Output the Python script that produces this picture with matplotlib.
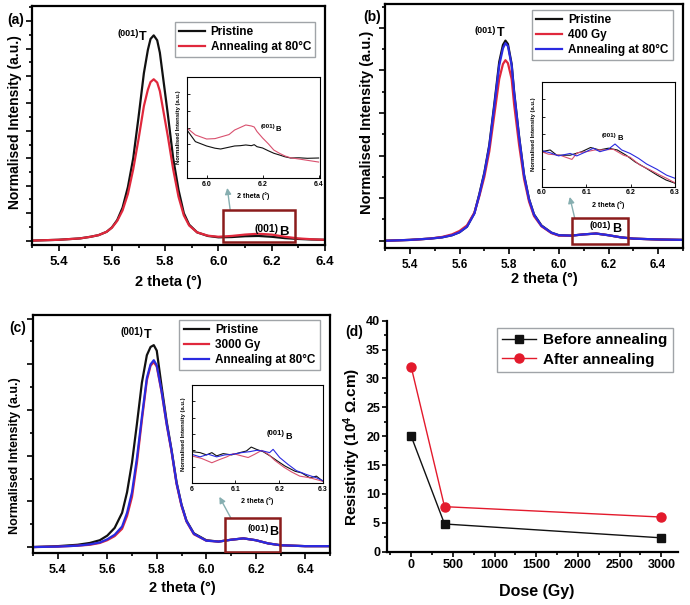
import matplotlib
matplotlib.use('Agg')
import matplotlib.pyplot as plt
from matplotlib.patches import Rectangle
from matplotlib.ticker import MultipleLocator, FormatStrFormatter, NullFormatter

plt.rcParams['font.family'] = ['Liberation Sans', 'DejaVu Sans']
plt.rcParams['font.weight'] = 'bold'
plt.rcParams['axes.labelweight'] = 'bold'
plt.rcParams['mathtext.fontset'] = 'custom'
plt.rcParams['mathtext.bf'] = 'Liberation Sans:bold'
plt.rcParams['mathtext.rm'] = 'Liberation Sans:bold'
plt.rcParams['mathtext.default'] = 'bf'

# ---- (a) pristine vs annealed ------------------------------------------
A_X = [5.30, 5.40, 5.48, 5.52, 5.55, 5.58, 5.60, 5.62, 5.64, 5.66,
       5.68, 5.70, 5.72, 5.735, 5.745, 5.757, 5.77, 5.78, 5.79, 5.81,
       5.83, 5.85, 5.87, 5.89, 5.92, 5.96, 6.00, 6.05, 6.10, 6.15,
       6.20, 6.25, 6.30, 6.35, 6.40]
A_PRISTINE = [0.0, 0.03, 0.08, 0.14, 0.2, 0.32, 0.48, 0.75, 1.2, 1.95,
              3.0, 4.5, 6.1, 6.95, 7.35, 7.48, 7.3, 6.85, 6.1, 4.6,
              3.0, 1.85, 1.0, 0.58, 0.3, 0.17, 0.12, 0.13, 0.16, 0.17,
              0.14, 0.09, 0.06, 0.04, 0.03]
A_ANNEAL = [0.0, 0.03, 0.08, 0.14, 0.2, 0.32, 0.47, 0.72, 1.1, 1.7,
            2.6, 3.7, 4.9, 5.5, 5.78, 5.88, 5.76, 5.45, 4.9, 3.8,
            2.6, 1.6, 0.92, 0.55, 0.3, 0.18, 0.14, 0.17, 0.22, 0.25,
            0.22, 0.14, 0.08, 0.05, 0.03]
A_IN_X = [5.93, 5.96, 6.00, 6.03, 6.05, 6.08, 6.10, 6.12, 6.14, 6.16,
          6.17, 6.18, 6.20, 6.22, 6.24, 6.26, 6.28, 6.30, 6.33, 6.36, 6.40]
A_IN_ANNEAL = [4.95, 4.26, 3.86, 3.9, 4.06, 4.3, 4.75, 5.0, 5.25, 5.15,
               5.05, 4.6, 3.96, 3.4, 2.77, 2.45, 2.18, 2.0, 1.88, 1.75, 1.58]
A_IN_PRISTINE = [4.75, 3.6, 3.17, 2.95, 2.87, 3.05, 3.17, 3.2, 3.27, 3.2,
                 3.3, 3.1, 2.97, 2.7, 2.45, 2.28, 2.1, 1.98, 2.0, 1.95, 1.98]

# ---- (b) pristine / 400 Gy / annealed ----------------------------------
B_X = [5.30, 5.40, 5.48, 5.53, 5.57, 5.60, 5.63, 5.66, 5.68, 5.70,
       5.72, 5.74, 5.76, 5.775, 5.785, 5.795, 5.81, 5.82, 5.84, 5.86,
       5.88, 5.90, 5.93, 5.97, 6.00, 6.05, 6.10, 6.15, 6.20, 6.25,
       6.30, 6.40, 6.50]
B_PRISTINE = [0.0, 0.02, 0.05, 0.08, 0.13, 0.2, 0.33, 0.65, 1.1, 1.6,
              2.25, 3.2, 4.2, 4.6, 4.7, 4.62, 4.15, 3.5, 2.45, 1.55,
              0.98, 0.62, 0.36, 0.19, 0.13, 0.12, 0.15, 0.17, 0.13, 0.08,
              0.05, 0.03, 0.02]
B_400 = [0.0, 0.02, 0.05, 0.09, 0.15, 0.23, 0.36, 0.66, 1.05, 1.5,
         2.1, 2.95, 3.8, 4.15, 4.24, 4.17, 3.8, 3.2, 2.25, 1.45,
         0.92, 0.58, 0.34, 0.18, 0.12, 0.12, 0.15, 0.17, 0.13, 0.08,
         0.05, 0.03, 0.02]
B_ANNEAL = [0.0, 0.02, 0.05, 0.08, 0.13, 0.2, 0.33, 0.64, 1.08, 1.58,
            2.22, 3.15, 4.12, 4.52, 4.64, 4.57, 4.12, 3.47, 2.43, 1.53,
            0.97, 0.61, 0.35, 0.19, 0.13, 0.12, 0.15, 0.17, 0.13, 0.08,
            0.05, 0.03, 0.02]
B_IN_X_P = [6.0, 6.019, 6.034, 6.064, 6.09, 6.11, 6.13, 6.15, 6.17, 6.19,
            6.21, 6.236, 6.26, 6.28, 6.3]
B_IN_P = [1.0, 1.05, 0.9, 0.9, 1.0, 1.12, 1.05, 1.1, 1.05, 0.9,
          0.71, 0.52, 0.33, 0.19, 0.1]
B_IN_X_400 = [6.0, 6.015, 6.041, 6.068, 6.08, 6.10, 6.12, 6.139, 6.161, 6.184,
              6.199, 6.221, 6.244, 6.266, 6.281, 6.3]
B_IN_400 = [1.0, 0.93, 0.9, 0.78, 0.97, 1.0, 1.05, 1.05, 1.07, 0.9,
            0.84, 0.62, 0.48, 0.33, 0.24, 0.11]
B_IN_X_A = [6.0, 6.019, 6.038, 6.064, 6.079, 6.10, 6.116, 6.131, 6.15, 6.165,
            6.18, 6.199, 6.218, 6.236, 6.259, 6.281, 6.3]
B_IN_A = [1.03, 0.97, 0.88, 0.95, 0.88, 1.0, 1.1, 1.0, 1.07, 1.22,
          1.05, 0.95, 0.81, 0.65, 0.5, 0.33, 0.24]

# ---- (c) pristine / 3000 Gy / annealed ---------------------------------
C_X = [5.30, 5.40, 5.48, 5.53, 5.57, 5.60, 5.63, 5.66, 5.68, 5.70,
       5.72, 5.74, 5.76, 5.775, 5.788, 5.80, 5.82, 5.84, 5.86, 5.88,
       5.90, 5.92, 5.95, 6.00, 6.05, 6.10, 6.15, 6.20, 6.25, 6.30,
       6.40, 6.50]
C_PRISTINE = [0.0, 0.02, 0.05, 0.09, 0.15, 0.25, 0.42, 0.75, 1.2, 1.85,
              2.7, 3.6, 4.2, 4.38, 4.42, 4.3, 3.5, 2.75, 2.12, 1.42,
              0.93, 0.58, 0.3, 0.15, 0.12, 0.16, 0.19, 0.15, 0.08, 0.04,
              0.02, 0.02]
C_3000 = [0.0, 0.01, 0.03, 0.05, 0.09, 0.15, 0.24, 0.4, 0.68, 1.1,
          1.85, 2.78, 3.65, 3.97, 4.05, 3.95, 3.38, 2.68, 2.08, 1.38,
          0.9, 0.56, 0.28, 0.14, 0.12, 0.16, 0.19, 0.15, 0.08, 0.04,
          0.02, 0.02]
C_ANNEAL = [0.0, 0.01, 0.03, 0.06, 0.1, 0.17, 0.27, 0.45, 0.75, 1.2,
            1.95, 2.85, 3.7, 4.0, 4.09, 3.98, 3.4, 2.7, 2.1, 1.4,
            0.92, 0.57, 0.29, 0.14, 0.12, 0.16, 0.19, 0.15, 0.08, 0.04,
            0.02, 0.02]
C_IN_X_P = [6.0, 6.019, 6.034, 6.046, 6.057, 6.072, 6.091, 6.11, 6.125, 6.136,
            6.148, 6.163, 6.179, 6.194, 6.213, 6.236, 6.251, 6.27, 6.285, 6.3]
C_IN_P = [0.96, 0.93, 0.86, 0.93, 0.83, 0.9, 0.86, 0.93, 0.98, 1.1,
          1.03, 0.96, 0.83, 0.69, 0.52, 0.36, 0.31, 0.16, 0.21, 0.05]
C_IN_X_3000 = [6.0, 6.023, 6.046, 6.064, 6.08, 6.095, 6.114, 6.129, 6.144, 6.16,
               6.175, 6.19, 6.21, 6.228, 6.247, 6.27, 6.3]
C_IN_3000 = [0.83, 0.75, 0.62, 0.72, 0.8, 0.9, 0.83, 0.78, 0.88, 1.0,
             0.88, 0.69, 0.49, 0.34, 0.21, 0.16, 0.05]
C_IN_X_A = [6.0, 6.019, 6.038, 6.057, 6.076, 6.095, 6.114, 6.133, 6.148, 6.163,
            6.178, 6.186, 6.201, 6.22, 6.239, 6.262, 6.285, 6.3]
C_IN_A = [0.88, 0.8, 0.88, 0.8, 0.86, 0.88, 0.93, 0.96, 1.0, 0.98,
          0.93, 1.03, 0.78, 0.57, 0.38, 0.26, 0.16, 0.07]

# ---- (d) resistivity ----------------------------------------------------
D_DOSE = [0, 400, 3000]
D_BEFORE = [20, 4.8, 2.4]
D_AFTER = [32, 7.8, 6.0]

BLACK = '#111111'
RED = '#e0283c'
PINK = '#d9506e'
BLUE = '#2a2ae0'
BOX = '#8b1c1c'
ARROW = '#86aeb0'
W, H = 690, 605


def px(left, top, right, bottom):
    return [left / W, 1 - bottom / H, (right - left) / W, (bottom - top) / H]


def place_labels(ax, xl, yl):
    # label centres in axes fraction
    ax.xaxis.set_label_coords(*xl)
    ax.xaxis.label.set_va('center')
    ax.yaxis.set_label_coords(*yl)
    ax.yaxis.label.set_va('center')


def style_main(ax, xmax, ylim, tick_fs):
    ax.set_xlim(5.3, xmax)
    ax.set_ylim(*ylim)
    ax.xaxis.set_major_locator(MultipleLocator(0.2))
    ax.xaxis.set_minor_locator(MultipleLocator(0.1))
    ax.xaxis.set_major_formatter(FormatStrFormatter('%.1f'))
    ax.yaxis.set_major_locator(MultipleLocator(1))
    ax.yaxis.set_minor_locator(MultipleLocator(0.5))
    ax.yaxis.set_major_formatter(NullFormatter())
    ax.tick_params(which='both', direction='out', width=1.2, labelsize=tick_fs)
    ax.tick_params(which='major', length=4.5)
    ax.tick_params(which='minor', length=2.5)
    for s in ax.spines.values():
        s.set_linewidth(1.6)


def style_inset(ax, xlim, ticks, labels, ylim):
    ax.set_xlim(*xlim)
    ax.set_ylim(*ylim)
    ax.set_xticks(ticks)
    ax.set_xticklabels(labels)
    ax.set_yticks([ylim[0] + i * (ylim[1] - ylim[0]) / 6 for i in range(7)])
    ax.set_yticklabels([])
    ax.tick_params(direction='in', length=2, width=0.6, labelsize=5, pad=2)
    for s in ax.spines.values():
        s.set_linewidth(0.8)
    ax.set_xlabel('2 theta (°)', fontsize=5, labelpad=3)
    ax.set_ylabel('Normalised Intensity (a.u.)', fontsize=4.2, labelpad=2)


def peak_label(ax, x, y, sub, fs_num, fs_sub):
    ax.annotate('(001)', xy=(x, y), xytext=(0, 1.5), textcoords='offset points',
                ha='right', va='baseline', fontsize=fs_num, zorder=8)
    ax.annotate(sub, xy=(x, y), xytext=(0.5, -1), textcoords='offset points',
                ha='left', va='baseline', fontsize=fs_sub, zorder=8)


def zoom_box(ax, x0, x1, y0, y1, tail, head):
    ax.add_patch(Rectangle((x0, y0), x1 - x0, y1 - y0, fill=False,
                           edgecolor=BOX, linewidth=1.8, zorder=6))
    ax.annotate('', xy=head, xytext=tail,
                arrowprops=dict(arrowstyle='-|>', color=ARROW, lw=1.0,
                                mutation_scale=9, shrinkA=0, shrinkB=0))


def legend(ax, x1, ytop, fs, spacing=0.25):
    lg = ax.legend(loc='upper right', bbox_to_anchor=(x1, ytop), borderaxespad=0,
                   fancybox=False, edgecolor='#a0a4a8', framealpha=1,
                   fontsize=fs, handlelength=2.2, labelspacing=spacing,
                   borderpad=0.35, handletextpad=0.5)
    lg.get_frame().set_linewidth(1.0)


fig = plt.figure(figsize=(W / 100, H / 100), dpi=100)

# ======================= (a) =======================
ax = fig.add_axes(px(32, 6, 325, 245))
ax.plot(A_X, A_PRISTINE, color=BLACK, lw=1.6, label='Pristine')
ax.plot(A_X, A_ANNEAL, color=RED, lw=1.6, label='Annealing at 80°C')
style_main(ax, 6.4, (-0.16, 8.55), 9.5)
ax.set_xlabel('2 theta (°)', fontsize=10.5)
ax.set_ylabel('Normalised Intensity (a.u.)', fontsize=10)
place_labels(ax, (0.464, -0.155), (-0.058, 0.515))
legend(ax, 0.966, 0.933, 8.5)
peak_label(ax, 5.70, 7.37, 'T', 6.5, 9)
peak_label(ax, 6.224, 0.24, 'B', 7.5, 9.5)
zoom_box(ax, 6.018, 6.288, -0.05, 1.12, (6.044, 1.12), (6.033, 1.92))

ins = fig.add_axes(px(187, 77, 320, 178))
ins.plot(A_IN_X, A_IN_PRISTINE, color=BLACK, lw=0.8)
ins.plot(A_IN_X, A_IN_ANNEAL, color=PINK, lw=0.8)
style_inset(ins, (5.93, 6.405), [6.0, 6.2, 6.4], ['6.0', '6.2', '6.4'], (0, 10))
peak_label(ins, 6.245, 4.75, 'B', 4.5, 5.5)
fig.text(16 / W, 1 - 20 / H, '(a)', fontsize=10, ha='center', va='center')

# ======================= (b) =======================
ax = fig.add_axes(px(385, 4, 683, 248))
ax.plot(B_X, B_PRISTINE, color=BLACK, lw=1.6, label='Pristine')
ax.plot(B_X, B_400, color=RED, lw=1.6, label='400 Gy')
ax.plot(B_X, B_ANNEAL, color=BLUE, lw=1.6, label='Annealing at 80°C')
style_main(ax, 6.5, (-0.17, 5.56), 8.5)
ax.set_xlabel('2 theta (°)', fontsize=10.5)
ax.set_ylabel('Normalised Intensity (a.u.)', fontsize=10.5)
place_labels(ax, (0.534, -0.125), (-0.061, 0.516))
legend(ax, 0.966, 0.975, 8.5)
peak_label(ax, 5.747, 4.83, 'T', 6.5, 9)
peak_label(ax, 6.211, 0.25, 'B', 6.5, 9)
zoom_box(ax, 6.055, 6.28, -0.08, 0.53, (6.064, 0.53), (6.044, 1.03))

ins = fig.add_axes(px(541.7, 81.7, 675, 186.7))
ins.plot(B_IN_X_P, B_IN_P, color=BLACK, lw=0.8)
ins.plot(B_IN_X_400, B_IN_400, color=PINK, lw=0.8)
ins.plot(B_IN_X_A, B_IN_A, color=BLUE, lw=0.8)
style_inset(ins, (6.0, 6.3), [6.0, 6.1, 6.2, 6.3], ['6.0', '6.1', '6.2', '6.3'], (0, 3))
peak_label(ins, 6.169, 1.36, 'B', 4.5, 5.5)
fig.text(372 / W, 1 - 17 / H, '(b)', fontsize=10, ha='center', va='center')

# ======================= (c) =======================
ax = fig.add_axes(px(33, 315, 330, 553))
ax.plot(C_X, C_PRISTINE, color=BLACK, lw=1.6, label='Pristine')
ax.plot(C_X, C_3000, color=RED, lw=1.6, label='3000 Gy')
ax.plot(C_X, C_ANNEAL, color=BLUE, lw=1.6, label='Annealing at 80°C')
style_main(ax, 6.5, (-0.13, 5.08), 9)
ax.set_xlabel('2 theta (°)', fontsize=10.5)
ax.set_ylabel('Normalised Intensity (a.u.)', fontsize=9)
place_labels(ax, (0.503, -0.145), (-0.061, 0.41))
legend(ax, 0.966, 0.979, 8.5)
peak_label(ax, 5.746, 4.6, 'T', 7, 9)
peak_label(ax, 6.252, 0.3, 'B', 6.5, 9)
zoom_box(ax, 6.076, 6.298, -0.11, 0.63, (6.10, 0.63), (6.053, 1.10))

ins = fig.add_axes(px(191.7, 385, 323, 483))
ins.plot(C_IN_X_P, C_IN_P, color=BLACK, lw=0.8)
ins.plot(C_IN_X_3000, C_IN_3000, color=PINK, lw=0.8)
ins.plot(C_IN_X_A, C_IN_A, color=BLUE, lw=0.8)
style_inset(ins, (6.0, 6.3), [6.0, 6.1, 6.2, 6.3], ['6', '6.1', '6.2', '6.3'], (0, 3))
peak_label(ins, 6.213, 1.40, 'B', 5.5, 6.5)
fig.text(18 / W, 1 - 328 / H, '(c)', fontsize=10, ha='center', va='center')

# ======================= (d) =======================
ax = fig.add_axes(px(387, 320.7, 678, 551.7))
ax.plot(D_DOSE, D_BEFORE, color=BLACK, lw=1.0, marker='s', ms=6,
        label='Before annealing')
ax.plot(D_DOSE, D_AFTER, color='#e31a2c', lw=1.0, marker='o', ms=6.5,
        label='After annealing')
ax.set_xlim(-290, 3200)
ax.set_ylim(0, 40)
ax.xaxis.set_major_locator(MultipleLocator(500))
ax.xaxis.set_minor_locator(MultipleLocator(250))
ax.yaxis.set_major_locator(MultipleLocator(5))
ax.yaxis.set_minor_locator(MultipleLocator(2.5))
ax.tick_params(which='both', direction='out', width=1.2, labelsize=9, pad=1.5)
ax.tick_params(which='major', length=3.5)
ax.tick_params(which='minor', length=2)
ax.spines['top'].set_visible(False)
ax.spines['right'].set_visible(False)
for s in ('left', 'bottom'):
    ax.spines[s].set_linewidth(1.6)
ax.set_xlabel('Dose (Gy)', fontsize=11.5)
ax.set_ylabel('Resistivity (10$^{4}$ Ω.cm)', fontsize=11)
place_labels(ax, (0.515, -0.173), (-0.118, 0.455))
legend(ax, 0.983, 0.968, 11, spacing=0.35)
fig.text(354 / W, 1 - 332 / H, '(d)', fontsize=10, ha='center', va='center')

fig.savefig('out.png', dpi=100)
